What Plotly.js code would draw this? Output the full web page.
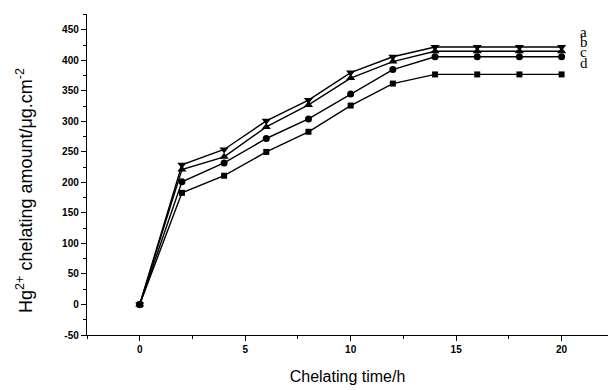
<!DOCTYPE html>
<html><head><meta charset="utf-8">
<script src="https://cdn.plot.ly/plotly-3.0.1.min.js"></script>
<style>html,body{margin:0;padding:0;background:#fff;overflow:hidden}</style>
</head><body>
<div id="chart" style="width:608px;height:390px"></div>
<script>
const time = [0, 2, 4, 6, 8, 10, 12, 14, 16, 18, 20];
const seriesA = [0, 229, 254, 301, 335, 380, 406, 422, 422, 422, 422];
const seriesB = [0, 221, 242, 291, 327, 371, 398, 415, 415, 415, 415];
const seriesC = [0, 201, 232, 272, 304, 345, 385, 406, 406, 406, 406];
const seriesD = [0, 183, 211, 250, 283, 326, 362, 377, 377, 377, 377];
const labels = ['a', 'b', 'c', 'd'];
const labelY = [447, 430, 413, 395];
const yTickVals = [-50, 0, 50, 100, 150, 200, 250, 300, 350, 400, 450];
const yTickText = ['-50', '0', '50', '100', '150', '200', '250', '300', '350', '400', '450'];
const xTickVals = [0, 5, 10, 15, 20];
const yTitle = 'Hg<sup>2+</sup> chelating amount/μg.cm<sup>-2</sup>';
const xTitle = 'Chelating time/h';

const mk = (y, sym, size) => ({
  x: time, y: y, type: 'scatter', mode: 'lines+markers',
  line: {color: '#000', width: 1.4},
  marker: {symbol: sym, size: size, color: '#000'},
  showlegend: false, hoverinfo: 'skip'
});
const data = [
  mk(seriesD, 'square', 6),
  mk(seriesC, 'circle', 7),
  mk(seriesB, 'triangle-up', 8),
  mk(seriesA, 'triangle-down', 8)
];

const annotations = labels.map((t, i) => ({
  x: 21.05, y: labelY[i], xref: 'x', yref: 'y', text: t, showarrow: false,
  xanchor: 'center', yanchor: 'middle', borderpad: 0,
  font: {family: 'Liberation Serif, serif', size: 15, color: '#000'}
}));
annotations.push({
  x: (25 - 87) / 521, y: (335 - 191) / 321, xref: 'paper', yref: 'paper',
  text: yTitle, showarrow: false, textangle: -90,
  xanchor: 'center', yanchor: 'middle',
  font: {family: 'Liberation Sans, Arial, sans-serif', size: 18, color: '#000'}
});

const layout = {
  width: 608, height: 390,
  margin: {l: 87, r: 0, t: 14, b: 55},
  paper_bgcolor: '#fff', plot_bgcolor: '#fff',
  font: {family: 'Liberation Sans, Arial, sans-serif', color: '#000'},
  xaxis: {
    range: [-2.5, 22.2], tickvals: xTickVals,
    ticks: 'outside', ticklen: 5, tickwidth: 1, tickcolor: '#000',
    minor: {dtick: 2.5, tick0: 0, ticks: 'outside', ticklen: 3, tickcolor: '#000'},
    showline: true, linecolor: '#000', linewidth: 1.2, showgrid: false, zeroline: false,
    tickfont: {size: 10, family: 'Liberation Sans, Arial', weight: 'bold'},
    title: {text: xTitle, font: {size: 16}, standoff: 16}
  },
  yaxis: {
    range: [-50, 476], tickvals: yTickVals, ticktext: yTickText,
    ticks: 'outside', ticklen: 5, tickwidth: 1, tickcolor: '#000',
    minor: {dtick: 25, tick0: 0, ticks: 'outside', ticklen: 3, tickcolor: '#000'},
    showline: true, linecolor: '#000', linewidth: 1.2, showgrid: false, zeroline: false,
    tickfont: {size: 10, family: 'Liberation Sans, Arial', weight: 'bold'}
  },
  annotations: annotations
};
Plotly.newPlot('chart', data, layout, {displayModeBar: false, staticPlot: true});
</script>
</body></html>
